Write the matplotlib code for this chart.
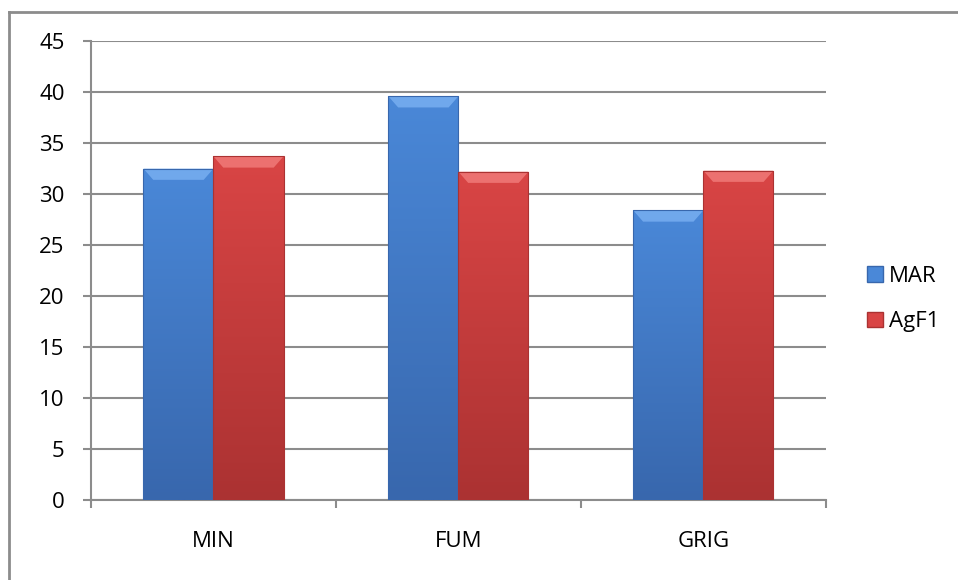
import numpy as np
import matplotlib
matplotlib.use("Agg")
import matplotlib.pyplot as plt
from matplotlib.patches import Patch, Polygon
from matplotlib.lines import Line2D
from matplotlib.colors import LinearSegmentedColormap

plt.rcParams['font.family'] = ['Open Sans', 'DejaVu Sans']

categories = ["MIN", "FUM", "GRIG"]
series_names = ["MAR", "AgF1"]
mar_values = [32.5, 39.6, 28.4]
agf1_values = [33.7, 32.2, 32.3]
y_ticks = [0, 5, 10, 15, 20, 25, 30, 35, 40, 45]

# (top colour, bottom colour, bevel colour)
blue = ("#4a88d8", "#3867ad", "#78aef0")
red = ("#d94545", "#ab3232", "#f07a78")

fig = plt.figure(figsize=(9.58, 5.8), dpi=100)
ax = fig.add_axes([0.095, 0.138, 0.767, 0.791])

x = np.arange(len(categories))
w = 0.286
FS = 16


def gradient_bars(xpos, values, colors, label):
    bars = ax.bar(xpos, values, w, color=colors[0], edgecolor="none", zorder=3, label=label)
    cmap = LinearSegmentedColormap.from_list("g", [colors[1], colors[0]])
    grad = np.linspace(0, 1, 256).reshape(-1, 1)
    for b in bars:
        x0, bw, h = b.get_x(), b.get_width(), b.get_height()
        im = ax.imshow(grad, extent=[x0, x0 + bw, 0, h], origin="lower", cmap=cmap,
                       aspect="auto", zorder=3.1)
        im.set_clip_path(b)
        # top bevel
        dx, dy = 0.04, 1.1
        bev = Polygon([[x0, h], [x0 + bw, h], [x0 + bw - dx, h - dy], [x0 + dx, h - dy]],
                      closed=True, facecolor=colors[2], edgecolor="none", alpha=0.85, zorder=3.2)
        ax.add_patch(bev)
        # darker outline
        ax.bar(x0 + bw / 2, h, bw, fill=False, edgecolor=colors[1], linewidth=0.8, zorder=3.3)
    return bars


gradient_bars(x - w / 2, mar_values, blue, series_names[0])
gradient_bars(x + w / 2, agf1_values, red, series_names[1])

ax.set_xlim(-0.5, len(categories) - 0.5)
ax.set_ylim(0, 45)
ax.set_yticks(y_ticks)
ax.set_yticklabels([str(v) for v in y_ticks], fontsize=FS)
ax.yaxis.grid(True, color="#8c8c8c", linewidth=1.5, zorder=0)
ax.set_axisbelow(True)

ax.set_xticks(np.arange(-0.5, len(categories), 1.0))
ax.set_xticklabels([])
ax.set_xticks(x, minor=True)
ax.set_xticklabels(categories, minor=True, fontsize=FS)
ax.tick_params(axis="x", which="minor", length=0, pad=22)
ax.tick_params(axis="x", which="major", length=6, width=1.5, color="#8c8c8c", direction="out")
ax.tick_params(axis="y", length=6, width=1.5, color="#8c8c8c", direction="out", pad=13)

for s in ["top", "right"]:
    ax.spines[s].set_visible(False)
for s in ["left", "bottom"]:
    ax.spines[s].set_color("#8c8c8c")
    ax.spines[s].set_linewidth(1.5)

handles = [Patch(facecolor=blue[0], edgecolor=blue[1]), Patch(facecolor=red[0], edgecolor=red[1])]
fig.legend(handles, series_names, loc="center left", bbox_to_anchor=(0.905, 0.4845),
           frameon=False, fontsize=FS, handlelength=0.7, handleheight=0.7,
           handletextpad=0.3, labelspacing=1.1, borderpad=0, borderaxespad=0)

# outer chart frame (only top and left edges visible)
fig.add_artist(Line2D([0.0094, 1.0], [0.979, 0.979], color="#8c8c8c", linewidth=2))
fig.add_artist(Line2D([0.0094, 0.0094], [0.0, 0.979], color="#8c8c8c", linewidth=2))

fig.savefig("out.png", dpi=100)
